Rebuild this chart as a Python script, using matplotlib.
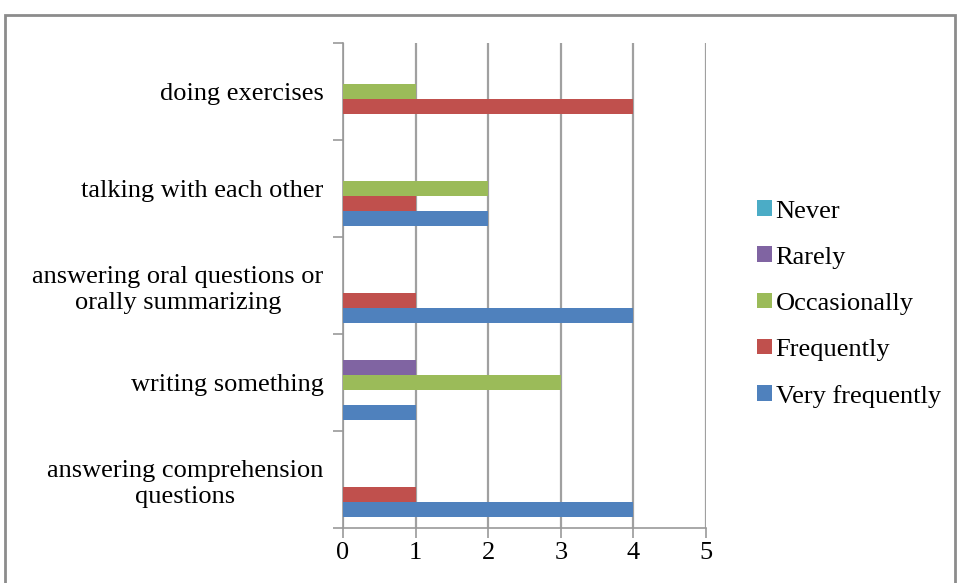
import numpy as np
import matplotlib.pyplot as plt
from matplotlib.patches import Rectangle

plt.rcParams['font.family'] = ['Liberation Serif', 'DejaVu Serif']

categories = ['answering comprehension\nquestions', 'writing something',
              'answering oral questions or\norally summarizing',
              'talking with each other', 'doing exercises']
series = ['Very frequently', 'Frequently', 'Occasionally', 'Rarely', 'Never']
very_frequently = [4, 1, 4, 2, 0]
frequently = [1, 0, 1, 1, 4]
occasionally = [0, 3, 0, 2, 1]
rarely = [0, 1, 0, 0, 0]
never = [0, 0, 0, 0, 0]
colors = ['#4f81bd', '#c0504d', '#9bbb59', '#8064a2', '#4bacc6']

values = [very_frequently, frequently, occasionally, rarely, never]

fig = plt.figure(figsize=(9.58, 5.83), dpi=100)
ax = fig.add_axes([343 / 958, 1 - 528 / 583, (706 - 343) / 958, (528 - 43) / 583])

y = np.arange(len(categories))
h = 0.155
for i, (name, vals) in enumerate(zip(series, values)):
    ax.barh(y + (i - 2) * h, vals, height=h, color=colors[i], label=name,
            edgecolor='none', zorder=3)

ax.set_xlim(0, 5)
ax.set_ylim(-0.5, len(categories) - 0.5)
ax.set_xticks(range(6))
ax.set_yticks(y)
ax.set_yticklabels(categories, fontsize=19, linespacing=1.25,
                   multialignment='center')
ax.set_yticks(np.arange(-0.5, len(categories), 1), minor=True)
ax.tick_params(axis='y', which='major', length=0, pad=14)
ax.tick_params(axis='y', which='minor', length=7, color='#999999', width=1.2)
ax.tick_params(axis='x', length=7, color='#999999', width=1.2, labelsize=19, pad=3)
ax.grid(axis='x', color='#a0a0a0', linewidth=1.6, zorder=0)
for s in ['top', 'right']:
    ax.spines[s].set_visible(False)
for s in ['left', 'bottom']:
    ax.spines[s].set_color('#999999')
    ax.spines[s].set_linewidth(1.2)

handles, labels = ax.get_legend_handles_labels()
fig.legend(handles[::-1], labels[::-1], loc='center left',
           bbox_to_anchor=(744 / 958, 1 - 304 / 583), frameon=False,
           fontsize=19, handlelength=0.55, handleheight=0.55,
           handletextpad=0.15, labelspacing=0.9, borderpad=0)

# chart outer border
fig.add_artist(Rectangle((5 / 958, -0.01), 950 / 958, 1 - 15 / 583 + 0.01,
                         transform=fig.transFigure, fill=False,
                         edgecolor='#8c8c8c', linewidth=2))

fig.savefig('out.png', dpi=100)
